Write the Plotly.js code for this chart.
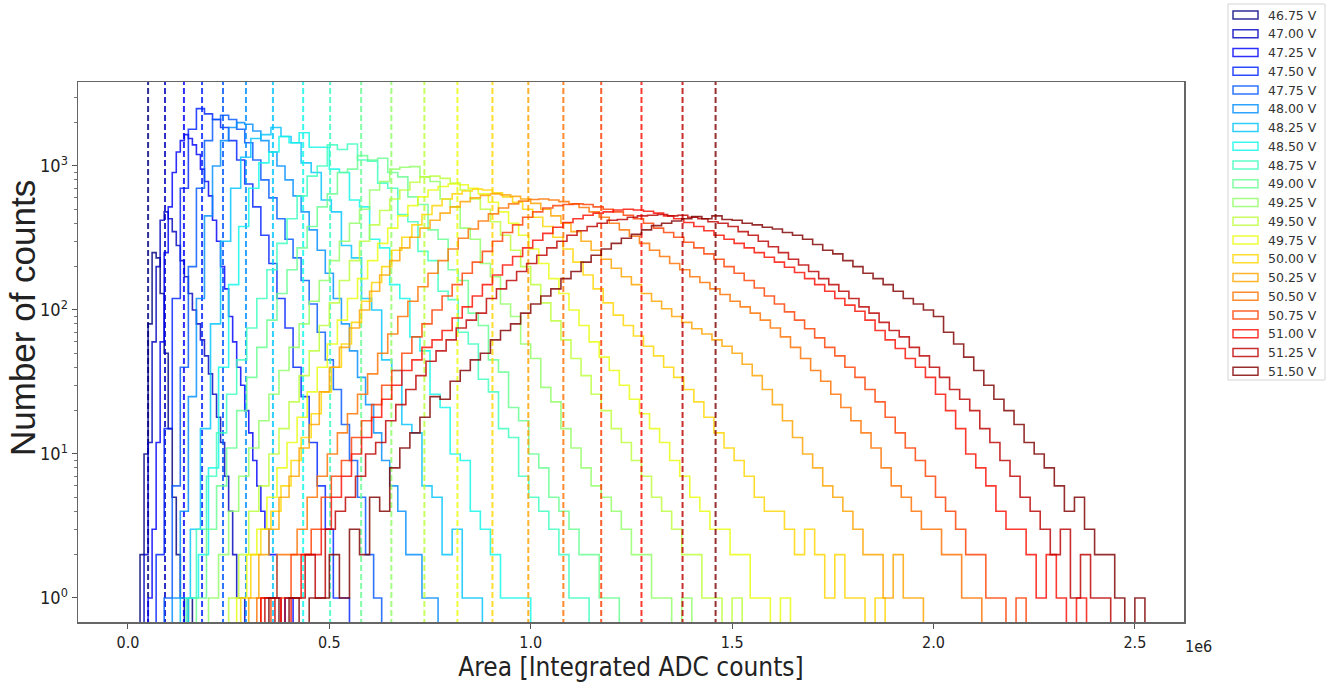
<!DOCTYPE html>
<html><head><meta charset="utf-8">
<script src="https://cdn.plot.ly/plotly-3.0.1.min.js"></script>
<style>body{margin:0;background:#fff}#chart{width:1336px;height:686px}</style>
</head><body><div id="chart"></div>
<script>
// ---- data (x in units of 1e6 integrated ADC counts) ----
const voltages = ['46.75 V','47.00 V','47.25 V','47.50 V','47.75 V','48.00 V','48.25 V','48.50 V','48.75 V','49.00 V',
                  '49.25 V','49.50 V','49.75 V','50.00 V','50.25 V','50.50 V','50.75 V','51.00 V','51.25 V','51.50 V'];
const markerPositions = [0.050,0.092,0.139,0.184,0.236,0.293,0.360,0.435,0.502,0.579,
                         0.654,0.736,0.818,0.905,0.994,1.081,1.175,1.275,1.377,1.459];
const binStart = [0.03,0.04,0.05,0.07,0.09,0.11,0.13,0.15,0.145,0.17,0.2,0.25,0.27,0.28,0.3,0.32,0.33,0.33,0.34,0.35];
const binWidth = [0.01,0.01,0.01,0.02,0.02,0.02,0.025,0.025,0.025,0.025,0.025,0.025,0.025,0.025,0.025,0.025,0.025,0.025,0.025,0.025];

const counts_4675 = [2,10,80,250,230,130,50,15,5,2,1,0,1];
const counts_4700 = [2,12,60,200,420,480,430,350,280,220,170,130,100,80,62,48,36,26,18,12,7,4,2,1,1];
const counts_4725 = [1,3,12,60,250,520,900,1250,1500,1650,1550,1400,1200,950,780,620,420,300,200,140,90,60,40,30,20,14,9,6,4,3,2,2,1,0,1,1];
const counts_4750 = [2,15,120,700,1800,2500,2300,2100,1850,1500,1100,750,520,330,210,120,75,40,25,12,6,3,1,1];
const counts_4775 = [1,6,40,200,700,1500,2100,2250,2100,1800,1450,1100,800,600,430,310,230,160,110,70,45,28,16,9,5,2,1];
const counts_4800 = [1,4,25,120,450,1000,1500,1850,2000,1950,1750,1500,1250,1000,800,620,480,360,260,180,120,80,52,34,22,14,9,6,4,2,2,1,1];
const counts_4825 = [1,3,15,80,300,700,1150,1550,1650,1850,1600,1450,1050,900,580,480,280,230,120,100,45,38,16,14,6,5,2,3,1,1];
const counts_4850 = [1,2,8,40,150,380,700,1050,1250,1600,1450,1700,1350,1350,950,900,580,520,310,270,150,120,65,52,26,21,10,9,4,3,2,1,1,1];
const counts_4875 = [1,3,7,14,26,45,75,120,190,290,430,620,850,1000,1400,1300,1420,1100,1080,760,700,460,410,255,220,135,118,70,58,33,27,15,13,7,5,4,3,2,1,1];
const counts_4900 = [1,3,6,11,20,34,55,85,130,190,270,380,520,640,900,950,1180,1100,1130,900,840,610,540,360,310,190,160,95,78,45,37,21,17,10,8,5,4,3,2,2,1,1];
const counts_4925 = [1,2,4,7,11,17,26,38,55,80,115,160,220,300,400,500,680,780,950,980,990,840,780,590,520,370,310,210,170,110,90,58,46,29,23,15,11,8,6,5,4,3,2,2,1,1,0,1];
const counts_4950 = [1,2,4,6,10,15,23,35,52,78,112,160,220,300,390,490,590,680,770,840,850,820,760,680,590,500,410,330,260,200,150,112,84,62,46,35,26,20,15,12,9,7,5,4,3,2,2,1,1,0,1];
const counts_4975 = [1,2,3,5,8,12,18,27,40,58,85,120,165,220,290,370,450,530,610,680,720,750,740,700,640,560,480,400,330,265,210,165,130,100,78,60,47,38,30,24,19,15,12,9,7,5,4,3,3,2,2,1,1,0,1];
const counts_5000 = [1,2,3,4,6,9,13,19,27,40,58,82,115,155,200,260,320,390,460,530,590,640,670,690,680,650,610,560,500,440,380,320,265,215,175,140,112,92,78,66,56,48,40,34,28,23,18,14,11,9,7,5,4,4,3,2,3,2,1,2,1,1,0,1];
const counts_5025 = [1,2,3,5,7,11,16,27,40,55,75,100,135,175,220,270,320,370,420,470,520,565,600,625,640,630,615,590,550,500,450,400,350,300,260,225,195,170,150,130,115,102,90,82,74,68,62,56,50,42,35,28,22,17,13,10,8,6,5,4,3,2,2,1,2,1,1];
const counts_5050 = [1,1,2,2,3,5,7,10,14,19,26,36,50,68,90,115,145,180,220,265,315,365,415,465,510,545,570,585,590,580,565,545,515,480,440,400,360,325,290,260,235,210,190,170,155,140,128,115,105,95,85,75,65,55,46,38,32,26,21,17,14,11,8,6,5,4,3,3,2,2,1,1];
const counts_5075 = [1,0,1,2,2,3,5,7,9,13,17,22,30,38,50,65,80,100,125,150,180,215,255,300,345,390,440,480,510,530,540,545,540,520,500,480,455,430,400,370,345,320,295,270,245,225,200,180,160,142,125,110,97,85,74,64,55,48,40,34,28,23,18,14,11,9,7,5,4,3,2,2,1,1,0,1];
const counts_5100 = [1,1,0,1,2,2,3,5,7,10,13,18,24,30,38,45,55,62,72,88,105,125,150,175,205,235,270,305,340,375,405,430,455,470,480,495,500,495,485,470,450,430,405,380,355,330,310,290,270,250,232,215,198,182,165,150,135,120,108,98,85,72,62,54,46,40,34,26,20,15,10,8,6,4,3,3,2,1,2,1,0,1];
const counts_5125 = [1,0,1,1,2,1,3,4,5,7,10,12,17,22,28,35,44,52,62,75,85,95,120,140,160,185,210,240,270,300,330,355,380,400,420,425,440,450,455,460,450,455,440,430,410,400,380,350,330,300,275,250,225,205,185,165,150,135,120,105,95,82,72,65,55,48,40,34,28,24,20,15,12,9,7,5,4,3,2,3,1,2,1,1];
const counts_5150 = [1,0,1,0,1,1,2,1,3,2,5,4,8,11,14,18,25,24,32,38,45,50,62,72,80,95,110,125,140,165,185,215,240,265,290,315,335,360,385,400,415,430,445,430,450,425,420,400,390,375,365,345,330,310,285,260,245,220,200,180,165,150,135,120,110,100,90,70,58,47,38,30,24,20,16,12,10,8,6,4,5,3,2,2,1,0,1];

const seriesCounts = [counts_4675,counts_4700,counts_4725,counts_4750,counts_4775,counts_4800,counts_4825,counts_4850,counts_4875,counts_4900,
                      counts_4925,counts_4950,counts_4975,counts_5000,counts_5025,counts_5050,counts_5075,counts_5100,counts_5125,counts_5150];
const xTickVals = [0,0.5,1.0,1.5,2.0,2.5];
const xTickText = ['0.0','0.5','1.0','1.5','2.0','2.5'];
const yTickVals = [1,10,100,1000];
const yTickText = ['10<sup>0</sup>','10<sup>1</sup>','10<sup>2</sup>','10<sup>3</sup>'];

// ---- styling helpers ----
function interp(pts,t){for(let k=1;k<pts.length;k++){if(t<=pts[k][0]){const a=pts[k-1],b=pts[k];return a[1]+(b[1]-a[1])*(t-a[0])/(b[0]-a[0]);}}return pts[pts.length-1][1];}
function jet(t){
  const r=interp([[0,0],[0.35,0],[0.66,1],[0.89,1],[1,0.5]],t);
  const g=interp([[0,0],[0.125,0],[0.375,1],[0.64,1],[0.91,0],[1,0]],t);
  const b=interp([[0,0.5],[0.11,1],[0.34,1],[0.65,0],[1,0]],t);
  return [Math.round(r*255),Math.round(g*255),Math.round(b*255)];
}
const FLOOR = 0.01;
const traces = [];
const N = voltages.length;
const colors = [];
for(let i=0;i<N;i++){
  const c = jet(i/(N-1));
  const col = 'rgba('+c[0]+','+c[1]+','+c[2]+',0.82)';
  colors.push(col);
  const s = binStart[i], w = binWidth[i], v = seriesCounts[i];
  const xs=[s], ys=[FLOOR];
  for(let j=0;j<v.length;j++){xs.push(s+j*w); ys.push(v[j]>0?v[j]:FLOOR);}
  xs.push(s+v.length*w); ys.push(FLOOR);
  traces.push({type:'scatter',mode:'lines',x:xs,y:ys,line:{shape:'hv',color:col,width:1.6},showlegend:false,hoverinfo:'skip',name:voltages[i]});
  const m = markerPositions[i];
  traces.push({type:'scatter',mode:'lines',x:[m,m],y:[FLOOR,1e5],line:{color:col,width:2,dash:'6px,3px'},showlegend:false,hoverinfo:'skip'});
}

// ---- plot area in px ----
const W=1336,H=686, L=78, R=1184, T=82, B=622;
const px2x = p => (p-L)/(R-L);
const py2y = p => (B-p)/(B-T);

const shapes=[], annotations=[];
// legend frame
shapes.push({type:'rect',xref:'paper',yref:'paper',x0:px2x(1228),x1:px2x(1325),y0:py2y(380),y1:py2y(4),line:{color:'#d4d4d4',width:1},fillcolor:'rgba(255,255,255,0.8)',layer:'above'});
for(let i=0;i<N;i++){
  const yc = 15 + i*18.75;
  shapes.push({type:'rect',xref:'paper',yref:'paper',x0:px2x(1233),x1:px2x(1258),y0:py2y(yc+4),y1:py2y(yc-4),line:{color:colors[i],width:1.5},fillcolor:'rgba(0,0,0,0)',layer:'above'});
  annotations.push({xref:'paper',yref:'paper',x:px2x(1266),y:py2y(yc),xanchor:'left',yanchor:'middle',showarrow:false,text:voltages[i],font:{family:'DejaVu Sans',size:12.5,color:'#333'}});
}
annotations.push({xref:'paper',yref:'paper',x:px2x(1198),y:py2y(646),xanchor:'center',yanchor:'middle',showarrow:false,text:'1e6',font:{family:'Liberation Sans Narrow, DejaVu Sans Condensed, sans-serif',size:16,color:'#222'}});
// y-axis title (placed as in the reference, slightly above the plot centre)
annotations.push({xref:'paper',yref:'paper',x:px2x(22),y:py2y(318),xanchor:'center',yanchor:'middle',showarrow:false,textangle:-90,text:'Number of counts',font:{family:'Liberation Sans, Arial, sans-serif',size:35,color:'#222'}});

const layout = {
  width:W,height:H,margin:{l:L,r:W-R,t:T,b:H-B},
  paper_bgcolor:'#fff',plot_bgcolor:'#fff',showlegend:false,
  font:{family:'Liberation Sans Narrow, DejaVu Sans Condensed, sans-serif',color:'#222'},
  xaxis:{range:[-0.124,2.622],tickmode:'array',tickvals:xTickVals,ticktext:xTickText,ticks:'outside',ticklen:5,tickwidth:1,tickcolor:'#555',
         showline:true,mirror:true,linecolor:'#666',linewidth:1.5,showgrid:false,zeroline:false,tickfont:{size:16},
         title:{text:'Area [Integrated ADC counts]',font:{size:26,family:'Liberation Sans Narrow, DejaVu Sans Condensed, sans-serif'},standoff:6}},
  yaxis:{type:'log',range:[-0.167,3.583],tickmode:'array',tickvals:yTickVals,ticktext:yTickText,ticks:'outside',ticklen:5,tickcolor:'#555',
         minor:{tickvals:[2,3,4,5,6,7,8,9,20,30,40,50,60,70,80,90,200,300,400,500,600,700,800,900,2000,3000],ticks:'outside',ticklen:3,tickcolor:'#777'},
         showline:true,mirror:true,linecolor:'#666',linewidth:1.5,showgrid:false,zeroline:false,tickfont:{size:18}},
  shapes:shapes,annotations:annotations
};
Plotly.newPlot('chart',traces,layout,{staticPlot:true});
</script></body></html>
